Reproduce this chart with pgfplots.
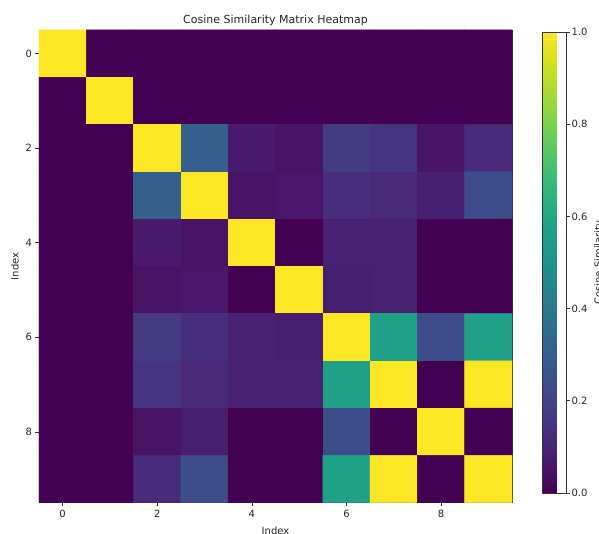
\documentclass[border=0pt]{standalone}
\usepackage{fontspec}
\setmainfont{DejaVu Sans}
\usepackage{pgfplots}
\pgfplotsset{compat=1.18}
\definecolor{vir0}{RGB}{68,1,84}
\begin{document}
\begin{tikzpicture}
\begin{axis}[
  scale only axis, width=473pt, height=472.7pt,
  xmin=-0.5, xmax=9.5, ymin=-0.5, ymax=9.5,
  enlargelimits=false,
  y dir=reverse,
  axis background/.style={fill=vir0},
  xtick={0,2,4,6,8}, ytick={0,2,4,6,8},
  tick align=outside, major tick length=3.5pt,
  xtick pos=left, ytick pos=left,
  /pgf/number format/assume math mode=true,
  tick label style={font=\fontsize{10}{11}\selectfont, text=black!85},
  label style={font=\fontsize{10}{12}\selectfont, text=black!85},
  xlabel style={yshift=-3pt},
  title style={font=\fontsize{11}{13}\selectfont, text=black!85, yshift=-5pt},
  title={Cosine Similarity Matrix Heatmap},
  xlabel={Index}, ylabel={Index},
  axis line style={black!80, line width=0.6pt},
  tick style={black!80, line width=0.6pt},
  colormap name=viridis,
  point meta min=0, point meta max=1,
  colorbar,
  colorbar style={
    at={(parent axis.north east)}, anchor=north west,
    xshift=22pt, yshift=-2pt,
    scale only axis, width=24pt, height=461pt,
    ytick={0,0.2,0.4,0.6,0.8,1},
    ytick pos=right, yticklabel pos=right,
    tick align=outside, major tick length=3.5pt,
    tick style={black!80, line width=0.6pt},
    yticklabel style={font=\fontsize{10}{11}\selectfont, text=black!85, xshift=-2pt, /pgf/number format/.cd, fixed, fixed zerofill, precision=1, assume math mode=true},
    ylabel={Cosine Similarity},
    ylabel style={font=\fontsize{10}{12}\selectfont, text=black!85},
    axis line style={black!80, line width=0.6pt},
  },
]
\addplot[matrix plot*, shader=faceted, faceted color=mapped color, line width=0.5pt, mesh/cols=10, point meta=explicit] table[meta=c]{
x y c
0 0 1
1 0 0
2 0 0
3 0 0
4 0 0
5 0 0
6 0 0
7 0 0
8 0 0
9 0 0
0 1 0
1 1 1
2 1 0
3 1 0
4 1 0
5 1 0
6 1 0
7 1 0
8 1 0
9 1 0
0 2 0
1 2 0
2 2 1
3 2 0.30
4 2 0.07
5 2 0.05
6 2 0.17
7 2 0.15
8 2 0.05
9 2 0.12
0 3 0
1 3 0
2 3 0.30
3 3 1
4 3 0.05
5 3 0.06
6 3 0.13
7 3 0.11
8 3 0.08
9 3 0.23
0 4 0
1 4 0
2 4 0.07
3 4 0.05
4 4 1
5 4 0
6 4 0.09
7 4 0.09
8 4 0
9 4 0
0 5 0
1 5 0
2 5 0.05
3 5 0.06
4 5 0
5 5 1
6 5 0.08
7 5 0.09
8 5 0
9 5 0
0 6 0
1 6 0
2 6 0.17
3 6 0.13
4 6 0.09
5 6 0.08
6 6 1
7 6 0.57
8 6 0.23
9 6 0.57
0 7 0
1 7 0
2 7 0.15
3 7 0.11
4 7 0.09
5 7 0.09
6 7 0.57
7 7 1
8 7 0
9 7 1
0 8 0
1 8 0
2 8 0.05
3 8 0.08
4 8 0
5 8 0
6 8 0.23
7 8 0
8 8 1
9 8 0
0 9 0
1 9 0
2 9 0.12
3 9 0.23
4 9 0
5 9 0
6 9 0.57
7 9 1
8 9 0
9 9 1
};
\end{axis}
\pgfresetboundingbox
\path[use as bounding box] (-39pt,-30.3pt) rectangle (560pt,502.7pt);
\end{tikzpicture}
\end{document}
